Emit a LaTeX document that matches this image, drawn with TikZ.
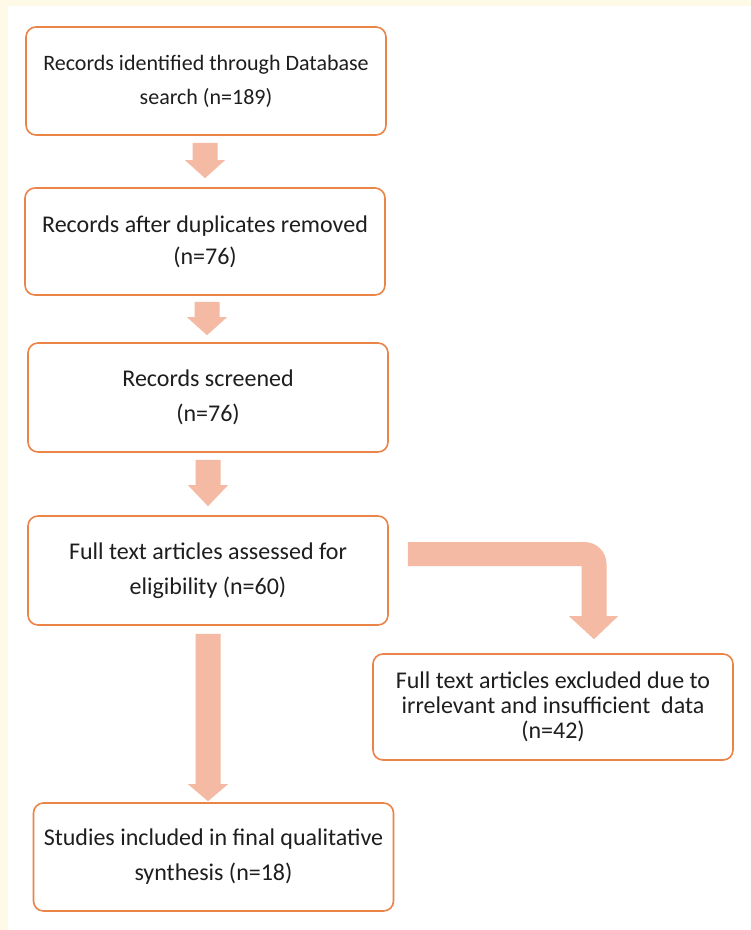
\documentclass[tikz,border=0pt]{standalone}
\usepackage{fontspec}
\setmainfont{Carlito}
\usetikzlibrary{calc}
\definecolor{cream}{HTML}{FFFAE8}
\definecolor{boxline}{HTML}{EB8447}
\definecolor{arrowfill}{HTML}{F4BAA4}
\definecolor{txt}{HTML}{1E1E1E}
\newcommand\blockdown[3]{%
  \fill[arrowfill] let \p1=(#1), \p2=(#2) in
    (\x1-12.5pt,\y1) -- (\x1+12.5pt,\y1) -- (\x1+12.5pt,\y2+#3) -- (\x1+20pt,\y2+#3)
    -- (\x1,\y2) -- (\x1-20pt,\y2+#3) -- (\x1-12.5pt,\y2+#3) -- cycle;}
\tikzset{
  flowbox/.style={draw=boxline, line width=1.6pt, rounded corners=10pt, fill=white,
    minimum width=360pt, minimum height=108pt, align=center, inner sep=0pt,
    text=txt, font=\fontsize{24pt}{35pt}\selectfont},
  smallbox/.style={flowbox, font=\fontsize{22pt}{34pt}\selectfont},
  midbox/.style={flowbox, font=\fontsize{24pt}{32pt}\selectfont},
  tightbox/.style={flowbox, font=\fontsize{24pt}{25pt}\selectfont}
}
\begin{document}
\begin{tikzpicture}[x=1pt,y=-1pt]
\useasboundingbox (0,0) rectangle (751,930);
\fill[cream] (0,0) rectangle (751,930);
\fill[white] (8,6) rectangle (751,930);

\node[smallbox] (b1) at (206,81) {Records identified through Database\\search (n=189)};
\node[midbox, minimum height=107pt] (b2) at (205,241.5) {Records after duplicates removed\\(n=76)};
\node[flowbox, minimum height=109pt] (b3) at (208,397.5) {Records screened\\(n=76)};
\node[flowbox, minimum height=109pt] (b4) at (208,570.5) {Full text articles assessed for\\eligibility (n=60)};
\node[tightbox, minimum height=106pt] (b5) at (553,707) {Full text articles excluded due to\\irrelevant and insufficient~ data\\(n=42)};
\node[flowbox] (b6) at (213.5,857) {Studies included in final qualitative\\synthesis (n=18)};

\coordinate (a1s) at ($(b1.south)+(-1,7)$);
\coordinate (a1e) at ($(b2.north)+(0,-9)$);
\coordinate (a2s) at ($(b2.south)+(2,6)$);
\coordinate (a2e) at ($(b3.north)+(0,-7)$);
\coordinate (a3s) at ($(b3.south)+(0,7)$);
\coordinate (a3e) at ($(b4.north)+(0,-9)$);
\coordinate (a4s) at ($(b4.south)+(0,8)$);
\coordinate (a4e) at ($(b6.north)+(0,-1)$);
\blockdown{a1s}{a1e}{18pt}
\blockdown{a2s}{a2e}{18pt}
\blockdown{a3s}{a3e}{21pt}
\blockdown{a4s}{a4e}{17pt}

\coordinate (e1) at ($(b4.east)+(19,-16.5)$);
\coordinate (e2) at ($(b5.north)+(41,-14)$);
\fill[arrowfill] let \p1=(e1), \p2=(e2) in
  (\x1,\y1+12pt) -- (\x2+12.5pt-22pt,\y1+12pt)
  arc[start angle=90, end angle=0, radius=22pt]
  -- (\x2+12.5pt,\y2+23pt) -- (\x2+24pt,\y2+23pt) -- (\x2,\y2)
  -- (\x2-25pt,\y2+23pt) -- (\x2-12.5pt,\y2+23pt) -- (\x2-12.5pt,\y1-12pt)
  -- (\x1,\y1-12pt) -- cycle;
\end{tikzpicture}
\end{document}
